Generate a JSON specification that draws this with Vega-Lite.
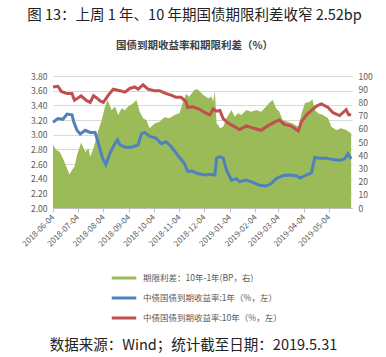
{
  "$schema": "https://vega.github.io/schema/vega-lite/v6.json",
  "autosize": {"type": "none"},
  "width": 299,
  "height": 132,
  "padding": {"left": 53, "top": 76, "right": 34, "bottom": 149},
  "background": "white",
  "title": {
    "text": "图 13：上周 1 年、10 年期国债期限利差收窄 2.52bp",
    "subtitle": "国债到期收益率和期限利差（%）",
    "anchor": "middle",
    "frame": "group",
    "dx": -8,
    "offset": 20,
    "font": "Noto Sans CJK SC",
    "fontSize": 14.5,
    "fontWeight": "normal",
    "color": "#222222",
    "subtitleFont": "Noto Sans CJK SC",
    "subtitleFontSize": 10.5,
    "subtitleFontWeight": "bold",
    "subtitleColor": "#404040",
    "subtitlePadding": 17
  },
  "config": {
    "view": {"stroke": null},
    "font": "Noto Sans CJK SC",
    "axis": {"labelColor": "#595959", "labelFontSize": 8.5, "labelFont": "Noto Sans CJK SC"}
  },
  "data": {"values": [
    {"date": "2018-06-04", "s": "spread", "v": 47.7},
    {"date": "2018-06-08", "s": "spread", "v": 44},
    {"date": "2018-06-12", "s": "spread", "v": 42.7},
    {"date": "2018-06-16", "s": "spread", "v": 37.6},
    {"date": "2018-06-21", "s": "spread", "v": 30},
    {"date": "2018-06-24", "s": "spread", "v": 25.5},
    {"date": "2018-06-27", "s": "spread", "v": 28.8},
    {"date": "2018-06-30", "s": "spread", "v": 31.3},
    {"date": "2018-07-03", "s": "spread", "v": 40},
    {"date": "2018-07-08", "s": "spread", "v": 49.5},
    {"date": "2018-07-13", "s": "spread", "v": 42.7},
    {"date": "2018-07-17", "s": "spread", "v": 45},
    {"date": "2018-07-19", "s": "spread", "v": 38.9},
    {"date": "2018-07-23", "s": "spread", "v": 45},
    {"date": "2018-07-29", "s": "spread", "v": 59},
    {"date": "2018-08-02", "s": "spread", "v": 66.7},
    {"date": "2018-08-06", "s": "spread", "v": 76.8},
    {"date": "2018-08-09", "s": "spread", "v": 81.8},
    {"date": "2018-08-14", "s": "spread", "v": 74},
    {"date": "2018-08-18", "s": "spread", "v": 76.8},
    {"date": "2018-08-22", "s": "spread", "v": 70.5},
    {"date": "2018-08-26", "s": "spread", "v": 75.5},
    {"date": "2018-08-30", "s": "spread", "v": 74},
    {"date": "2018-09-03", "s": "spread", "v": 76.8},
    {"date": "2018-09-09", "s": "spread", "v": 79.3},
    {"date": "2018-09-13", "s": "spread", "v": 81.8},
    {"date": "2018-09-17", "s": "spread", "v": 73},
    {"date": "2018-09-21", "s": "spread", "v": 68},
    {"date": "2018-09-25", "s": "spread", "v": 66.7},
    {"date": "2018-09-29", "s": "spread", "v": 60.4},
    {"date": "2018-10-05", "s": "spread", "v": 64},
    {"date": "2018-10-11", "s": "spread", "v": 65.4},
    {"date": "2018-10-17", "s": "spread", "v": 68.7},
    {"date": "2018-10-23", "s": "spread", "v": 68},
    {"date": "2018-10-29", "s": "spread", "v": 70.5},
    {"date": "2018-11-04", "s": "spread", "v": 71.7},
    {"date": "2018-11-08", "s": "spread", "v": 79.3},
    {"date": "2018-11-12", "s": "spread", "v": 86.4},
    {"date": "2018-11-16", "s": "spread", "v": 84.3},
    {"date": "2018-11-22", "s": "spread", "v": 89.4},
    {"date": "2018-11-26", "s": "spread", "v": 89.9},
    {"date": "2018-12-03", "s": "spread", "v": 85.6},
    {"date": "2018-12-09", "s": "spread", "v": 83.1},
    {"date": "2018-12-13", "s": "spread", "v": 84.3},
    {"date": "2018-12-15", "s": "spread", "v": 80.5},
    {"date": "2018-12-17", "s": "spread", "v": 88.9},
    {"date": "2018-12-19", "s": "spread", "v": 64},
    {"date": "2018-12-21", "s": "spread", "v": 62.9},
    {"date": "2018-12-23", "s": "spread", "v": 60.4},
    {"date": "2018-12-27", "s": "spread", "v": 61.6},
    {"date": "2018-12-31", "s": "spread", "v": 68},
    {"date": "2019-01-06", "s": "spread", "v": 74.2},
    {"date": "2019-01-10", "s": "spread", "v": 69.2},
    {"date": "2019-01-14", "s": "spread", "v": 71.7},
    {"date": "2019-01-18", "s": "spread", "v": 70.5},
    {"date": "2019-01-24", "s": "spread", "v": 74.2},
    {"date": "2019-01-30", "s": "spread", "v": 73},
    {"date": "2019-02-05", "s": "spread", "v": 74.2},
    {"date": "2019-02-11", "s": "spread", "v": 73},
    {"date": "2019-02-17", "s": "spread", "v": 76.8},
    {"date": "2019-02-21", "s": "spread", "v": 79.8},
    {"date": "2019-02-25", "s": "spread", "v": 81.8},
    {"date": "2019-03-01", "s": "spread", "v": 75.5},
    {"date": "2019-03-05", "s": "spread", "v": 73},
    {"date": "2019-03-09", "s": "spread", "v": 66.7},
    {"date": "2019-03-15", "s": "spread", "v": 65.4},
    {"date": "2019-03-21", "s": "spread", "v": 64},
    {"date": "2019-03-28", "s": "spread", "v": 61.6},
    {"date": "2019-04-01", "s": "spread", "v": 71.7},
    {"date": "2019-04-05", "s": "spread", "v": 79.3},
    {"date": "2019-04-11", "s": "spread", "v": 80.5},
    {"date": "2019-04-14", "s": "spread", "v": 82.3},
    {"date": "2019-04-17", "s": "spread", "v": 74.2},
    {"date": "2019-04-21", "s": "spread", "v": 71.7},
    {"date": "2019-04-27", "s": "spread", "v": 70.5},
    {"date": "2019-05-03", "s": "spread", "v": 68},
    {"date": "2019-05-07", "s": "spread", "v": 61.6},
    {"date": "2019-05-13", "s": "spread", "v": 59},
    {"date": "2019-05-19", "s": "spread", "v": 60.4},
    {"date": "2019-05-25", "s": "spread", "v": 59},
    {"date": "2019-05-31", "s": "spread", "v": 56.5},

    {"date": "2018-06-04", "s": "y1", "v": 3.17},
    {"date": "2018-06-10", "s": "y1", "v": 3.22},
    {"date": "2018-06-16", "s": "y1", "v": 3.21},
    {"date": "2018-06-21", "s": "y1", "v": 3.28},
    {"date": "2018-06-27", "s": "y1", "v": 3.27},
    {"date": "2018-06-29", "s": "y1", "v": 3.18},
    {"date": "2018-07-03", "s": "y1", "v": 3.06},
    {"date": "2018-07-07", "s": "y1", "v": 3.01},
    {"date": "2018-07-13", "s": "y1", "v": 3.06},
    {"date": "2018-07-19", "s": "y1", "v": 3.03},
    {"date": "2018-07-25", "s": "y1", "v": 3.03},
    {"date": "2018-07-29", "s": "y1", "v": 2.88},
    {"date": "2018-08-03", "s": "y1", "v": 2.68},
    {"date": "2018-08-07", "s": "y1", "v": 2.59},
    {"date": "2018-08-12", "s": "y1", "v": 2.75},
    {"date": "2018-08-17", "s": "y1", "v": 2.86},
    {"date": "2018-08-21", "s": "y1", "v": 2.93},
    {"date": "2018-08-24", "s": "y1", "v": 2.86},
    {"date": "2018-08-30", "s": "y1", "v": 2.83},
    {"date": "2018-09-07", "s": "y1", "v": 2.83},
    {"date": "2018-09-15", "s": "y1", "v": 2.86},
    {"date": "2018-09-19", "s": "y1", "v": 3.01},
    {"date": "2018-09-23", "s": "y1", "v": 3.03},
    {"date": "2018-09-29", "s": "y1", "v": 2.98},
    {"date": "2018-10-07", "s": "y1", "v": 2.95},
    {"date": "2018-10-13", "s": "y1", "v": 2.88},
    {"date": "2018-10-19", "s": "y1", "v": 2.90},
    {"date": "2018-10-25", "s": "y1", "v": 2.84},
    {"date": "2018-11-02", "s": "y1", "v": 2.72},
    {"date": "2018-11-10", "s": "y1", "v": 2.61},
    {"date": "2018-11-14", "s": "y1", "v": 2.50},
    {"date": "2018-11-20", "s": "y1", "v": 2.50},
    {"date": "2018-11-26", "s": "y1", "v": 2.47},
    {"date": "2018-12-05", "s": "y1", "v": 2.45},
    {"date": "2018-12-11", "s": "y1", "v": 2.46},
    {"date": "2018-12-17", "s": "y1", "v": 2.45},
    {"date": "2018-12-19", "s": "y1", "v": 2.68},
    {"date": "2018-12-23", "s": "y1", "v": 2.70},
    {"date": "2018-12-27", "s": "y1", "v": 2.68},
    {"date": "2018-12-31", "s": "y1", "v": 2.52},
    {"date": "2019-01-06", "s": "y1", "v": 2.38},
    {"date": "2019-01-12", "s": "y1", "v": 2.40},
    {"date": "2019-01-16", "s": "y1", "v": 2.36},
    {"date": "2019-01-24", "s": "y1", "v": 2.38},
    {"date": "2019-02-01", "s": "y1", "v": 2.35},
    {"date": "2019-02-09", "s": "y1", "v": 2.31},
    {"date": "2019-02-17", "s": "y1", "v": 2.30},
    {"date": "2019-02-23", "s": "y1", "v": 2.33},
    {"date": "2019-03-01", "s": "y1", "v": 2.40},
    {"date": "2019-03-09", "s": "y1", "v": 2.44},
    {"date": "2019-03-17", "s": "y1", "v": 2.45},
    {"date": "2019-03-26", "s": "y1", "v": 2.44},
    {"date": "2019-03-30", "s": "y1", "v": 2.41},
    {"date": "2019-04-07", "s": "y1", "v": 2.45},
    {"date": "2019-04-13", "s": "y1", "v": 2.48},
    {"date": "2019-04-17", "s": "y1", "v": 2.69},
    {"date": "2019-04-23", "s": "y1", "v": 2.68},
    {"date": "2019-05-01", "s": "y1", "v": 2.68},
    {"date": "2019-05-09", "s": "y1", "v": 2.66},
    {"date": "2019-05-17", "s": "y1", "v": 2.65},
    {"date": "2019-05-23", "s": "y1", "v": 2.67},
    {"date": "2019-05-27", "s": "y1", "v": 2.74},
    {"date": "2019-05-31", "s": "y1", "v": 2.67},

    {"date": "2018-06-04", "s": "y10", "v": 3.65},
    {"date": "2018-06-10", "s": "y10", "v": 3.66},
    {"date": "2018-06-14", "s": "y10", "v": 3.59},
    {"date": "2018-06-21", "s": "y10", "v": 3.56},
    {"date": "2018-06-27", "s": "y10", "v": 3.56},
    {"date": "2018-06-30", "s": "y10", "v": 3.47},
    {"date": "2018-07-08", "s": "y10", "v": 3.53},
    {"date": "2018-07-14", "s": "y10", "v": 3.47},
    {"date": "2018-07-19", "s": "y10", "v": 3.44},
    {"date": "2018-07-23", "s": "y10", "v": 3.53},
    {"date": "2018-07-27", "s": "y10", "v": 3.50},
    {"date": "2018-07-31", "s": "y10", "v": 3.46},
    {"date": "2018-08-04", "s": "y10", "v": 3.44},
    {"date": "2018-08-10", "s": "y10", "v": 3.54},
    {"date": "2018-08-16", "s": "y10", "v": 3.62},
    {"date": "2018-08-24", "s": "y10", "v": 3.60},
    {"date": "2018-08-30", "s": "y10", "v": 3.58},
    {"date": "2018-09-05", "s": "y10", "v": 3.63},
    {"date": "2018-09-11", "s": "y10", "v": 3.65},
    {"date": "2018-09-15", "s": "y10", "v": 3.62},
    {"date": "2018-09-21", "s": "y10", "v": 3.68},
    {"date": "2018-09-27", "s": "y10", "v": 3.62},
    {"date": "2018-10-05", "s": "y10", "v": 3.60},
    {"date": "2018-10-11", "s": "y10", "v": 3.60},
    {"date": "2018-10-19", "s": "y10", "v": 3.56},
    {"date": "2018-10-25", "s": "y10", "v": 3.54},
    {"date": "2018-10-31", "s": "y10", "v": 3.51},
    {"date": "2018-11-06", "s": "y10", "v": 3.51},
    {"date": "2018-11-12", "s": "y10", "v": 3.45},
    {"date": "2018-11-14", "s": "y10", "v": 3.37},
    {"date": "2018-11-20", "s": "y10", "v": 3.38},
    {"date": "2018-11-28", "s": "y10", "v": 3.35},
    {"date": "2018-12-05", "s": "y10", "v": 3.30},
    {"date": "2018-12-11", "s": "y10", "v": 3.27},
    {"date": "2018-12-15", "s": "y10", "v": 3.35},
    {"date": "2018-12-19", "s": "y10", "v": 3.32},
    {"date": "2018-12-23", "s": "y10", "v": 3.33},
    {"date": "2018-12-27", "s": "y10", "v": 3.22},
    {"date": "2019-01-02", "s": "y10", "v": 3.16},
    {"date": "2019-01-08", "s": "y10", "v": 3.12},
    {"date": "2019-01-16", "s": "y10", "v": 3.07},
    {"date": "2019-01-24", "s": "y10", "v": 3.12},
    {"date": "2019-02-01", "s": "y10", "v": 3.09},
    {"date": "2019-02-11", "s": "y10", "v": 3.06},
    {"date": "2019-02-19", "s": "y10", "v": 3.12},
    {"date": "2019-02-27", "s": "y10", "v": 3.17},
    {"date": "2019-03-05", "s": "y10", "v": 3.20},
    {"date": "2019-03-11", "s": "y10", "v": 3.14},
    {"date": "2019-03-19", "s": "y10", "v": 3.12},
    {"date": "2019-03-28", "s": "y10", "v": 3.05},
    {"date": "2019-04-01", "s": "y10", "v": 3.18},
    {"date": "2019-04-07", "s": "y10", "v": 3.27},
    {"date": "2019-04-13", "s": "y10", "v": 3.33},
    {"date": "2019-04-19", "s": "y10", "v": 3.39},
    {"date": "2019-04-25", "s": "y10", "v": 3.42},
    {"date": "2019-05-03", "s": "y10", "v": 3.37},
    {"date": "2019-05-09", "s": "y10", "v": 3.30},
    {"date": "2019-05-17", "s": "y10", "v": 3.26},
    {"date": "2019-05-25", "s": "y10", "v": 3.34},
    {"date": "2019-05-28", "s": "y10", "v": 3.27},
    {"date": "2019-05-31", "s": "y10", "v": 3.27}
  ]},
  "encoding": {
    "x": {
      "field": "date",
      "type": "temporal",
      "scale": {
        "type": "utc",
        "domain": [
          {"year": 2018, "month": 6, "date": 4, "utc": true},
          {"year": 2019, "month": 6, "date": 1, "utc": true}
        ]
      },
      "axis": {
        "values": [
          {"year": 2018, "month": 6, "date": 4, "utc": true},
          {"year": 2018, "month": 7, "date": 4, "utc": true},
          {"year": 2018, "month": 8, "date": 4, "utc": true},
          {"year": 2018, "month": 9, "date": 4, "utc": true},
          {"year": 2018, "month": 10, "date": 4, "utc": true},
          {"year": 2018, "month": 11, "date": 4, "utc": true},
          {"year": 2018, "month": 12, "date": 4, "utc": true},
          {"year": 2019, "month": 1, "date": 4, "utc": true},
          {"year": 2019, "month": 2, "date": 4, "utc": true},
          {"year": 2019, "month": 3, "date": 4, "utc": true},
          {"year": 2019, "month": 4, "date": 4, "utc": true},
          {"year": 2019, "month": 5, "date": 4, "utc": true}
        ],
        "format": "%Y-%m-%d",
        "labelAngle": -45,
        "labelAlign": "right",
        "labelBaseline": "middle",
        "labelPadding": 4,
        "labelOverlap": false,
        "labelFontSize": 8,
        "grid": false,
        "domainColor": "#BFBFBF",
        "tickColor": "#BFBFBF",
        "tickSize": 4,
        "title": "数据来源：Wind；统计截至日期：2019.5.31",
        "titleFont": "Noto Sans CJK SC",
        "titleFontSize": 14.5,
        "titleFontWeight": "normal",
        "titleColor": "#222222",
        "titleX": 140,
        "titleY": 137,
        "titleBaseline": "middle",
        "titleAlign": "center"
      }
    }
  },
  "layer": [
    {
      "transform": [{"filter": "datum.s == 'spread'"}],
      "mark": {"type": "area", "color": "#9BBB59", "opacity": 1, "interpolate": "linear"},
      "encoding": {
        "y": {
          "field": "v",
          "type": "quantitative",
          "scale": {"domain": [0, 100], "nice": false},
          "axis": {
            "orient": "right",
            "values": [0, 10, 20, 30, 40, 50, 60, 70, 80, 90, 100],
            "title": null,
            "grid": false,
            "domain": false,
            "ticks": false,
            "labelPadding": 6
          }
        },
        "color": {
          "field": "s",
          "type": "nominal",
          "scale": {"domain": ["spread", "y1", "y10"], "range": ["#9BBB59", "#4F81BD", "#C0504D"]},
          "legend": {
            "orient": "none",
            "legendX": 57,
            "legendY": 188,
            "direction": "vertical",
            "title": null,
            "symbolType": "stroke",
            "symbolSize": 600,
            "symbolStrokeWidth": 3,
            "rowPadding": -9,
            "labelFontSize": 8.5,
            "labelColor": "#595959",
            "labelLimit": 300,
            "labelOffset": 5,
            "labelExpr": "datum.value == 'spread' ? '期限利差：10年-1年(BP，右)' : datum.value == 'y1' ? '中债国债到期收益率:1年（%，左）' : '中债国债到期收益率:10年（%，左）'"
          }
        }
      }
    },
    {
      "transform": [{"filter": "datum.s != 'spread'"}],
      "mark": {"type": "line", "strokeWidth": 3, "interpolate": "linear"},
      "encoding": {
        "y": {
          "field": "v",
          "type": "quantitative",
          "scale": {"domain": [2, 3.8], "nice": false, "zero": false},
          "axis": {
            "orient": "left",
            "values": [2, 2.2, 2.4, 2.6, 2.8, 3.0, 3.2, 3.4, 3.6, 3.8],
            "format": ".2f",
            "title": null,
            "grid": true,
            "gridColor": "#D9D9D9",
            "domain": false,
            "ticks": false,
            "labelPadding": 6
          }
        },
        "color": {"field": "s", "type": "nominal"}
      }
    }
  ],
  "resolve": {"scale": {"y": "independent"}}
}
